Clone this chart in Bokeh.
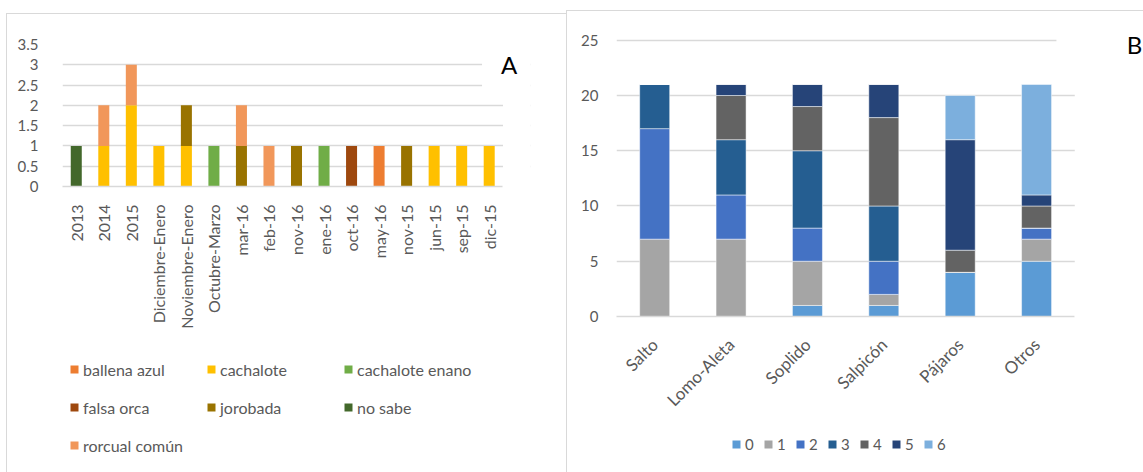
import math
from bokeh.plotting import figure
from bokeh.models import (Range1d, FixedTicker, CustomJSTickFormatter,
                          Legend, LegendItem, Label, BoxAnnotation, ColumnDataSource)
from bokeh.layouts import row, column
from bokeh.embed import file_html
from bokeh.resources import INLINE

# ---------------- Data: panel A ----------------
periods = ["2013", "2014", "2015", "Diciembre-Enero", "Noviembre-Enero", "Octubre-Marzo",
           "mar-16", "feb-16", "nov-16", "ene-16", "oct-16", "may-16", "nov-15",
           "jun-15", "sep-15", "dic-15"]
species = ["ballena azul", "cachalote", "cachalote enano", "falsa orca",
           "jorobada", "no sabe", "rorcual común"]
ballena_azul    = [0, 0, 0, 0, 0, 0, 0, 0, 0, 0, 0, 1, 0, 0, 0, 0]
cachalote       = [0, 1, 2, 1, 1, 0, 0, 0, 0, 0, 0, 0, 0, 1, 1, 1]
cachalote_enano = [0, 0, 0, 0, 0, 1, 0, 0, 0, 1, 0, 0, 0, 0, 0, 0]
falsa_orca      = [0, 0, 0, 0, 0, 0, 0, 0, 0, 0, 1, 0, 0, 0, 0, 0]
jorobada        = [0, 0, 0, 0, 1, 0, 1, 0, 1, 0, 0, 0, 1, 0, 0, 0]
no_sabe         = [1, 0, 0, 0, 0, 0, 0, 0, 0, 0, 0, 0, 0, 0, 0, 0]
rorcual_comun   = [0, 1, 1, 0, 0, 0, 1, 1, 0, 0, 0, 0, 0, 0, 0, 0]
species_colors = ["#ED7D31", "#FFC000", "#70AD47", "#9E480E", "#997300", "#43682B", "#F1975A"]
y_ticks_a = [0, 0.5, 1, 1.5, 2, 2.5, 3, 3.5]

# ---------------- Data: panel B ----------------
signals = ["Salto", "Lomo-Aleta", "Soplido", "Salpicón", "Pájaros", "Otros"]
levels = ["0", "1", "2", "3", "4", "5", "6"]
level_0 = [0, 0, 1, 1, 4, 5]
level_1 = [7, 7, 4, 1, 0, 2]
level_2 = [10, 4, 3, 3, 0, 1]
level_3 = [4, 5, 7, 5, 0, 0]
level_4 = [0, 4, 4, 8, 2, 2]
level_5 = [0, 1, 2, 3, 10, 1]
level_6 = [0, 0, 0, 0, 4, 10]
level_colors = ["#5B9BD5", "#A5A5A5", "#4472C4", "#255E91", "#636363", "#264478", "#7CAFDD"]
y_ticks_b = [0, 5, 10, 15, 20, 25]

FONT = "Lato"
TXT = "#595959"
GRID = "#D9D9D9"
BORDER = "1px solid #D9D9D9"
num_fmt = CustomJSTickFormatter(code="return String(tick);")


def cat_formatter(names):
    return CustomJSTickFormatter(args=dict(names=names),
                                 code="return names[Math.floor(tick)] ?? '';")


def style_axes(p, xsize, ysize):
    for ax, size in ((p.xaxis[0], xsize), (p.yaxis[0], ysize)):
        ax.major_tick_line_color = None
        ax.minor_tick_line_color = None
        ax.major_label_text_font = FONT
        ax.major_label_text_font_size = size
        ax.major_label_text_color = TXT
    p.yaxis.axis_line_color = None
    p.xaxis.axis_line_color = GRID
    p.xaxis.axis_line_width = 1.5
    p.xgrid.grid_line_color = None
    p.ygrid.grid_line_color = GRID
    p.ygrid.grid_line_width = 1.5
    p.outline_line_color = None


def legend_figure(width, height, labels, colors, location, ncols, font_size,
                  spacing, label_width):
    pl = figure(width=width, height=height, x_range=Range1d(0, 1), y_range=Range1d(0, 1),
                x_axis_type=None, y_axis_type=None, output_backend="svg",
                toolbar_location=None, min_border=0, frame_align=False)
    pl.outline_line_color = None
    pl.grid.visible = False
    items = []
    for lab, col in zip(labels, colors):
        # zero-height swatch renderer, only used for the legend key
        r = pl.vbar(x=[0.5], top=[0], bottom=[0], width=0.1, fill_color=col, line_color=None)
        items.append(LegendItem(label=lab, renderers=[r]))
    leg = Legend(items=items, location=location, orientation="horizontal", ncols=ncols,
                 glyph_width=10, glyph_height=10, label_standoff=4, spacing=spacing,
                 label_width=label_width, label_height=20, padding=0, margin=0,
                 border_line_color=None, background_fill_alpha=0, label_text_font=FONT,
                 label_text_font_size=font_size, label_text_color=TXT)
    pl.add_layout(leg)
    return pl


# ---------------- Panel A ----------------
xa = [i + 0.5 for i in range(len(periods))]
src_a = ColumnDataSource(dict(x=xa, **dict(zip(species, [
    ballena_azul, cachalote, cachalote_enano, falsa_orca, jorobada, no_sabe, rorcual_comun]))))
n_a = len(periods)
pa = figure(x_range=Range1d(0, n_a + 1), y_range=Range1d(0, 3.5),
            width=560, height=327, output_backend="svg", toolbar_location=None,
            min_border_left=55, min_border_right=37, min_border_top=30, min_border_bottom=155,
            frame_align=False)
pa.vbar_stack(species, x="x", width=0.4, color=species_colors, source=src_a, line_color=None)
pa.xaxis.ticker = FixedTicker(ticks=xa)
pa.xaxis.formatter = cat_formatter(periods)
pa.xaxis.bounds = (0, n_a)
pa.yaxis.ticker = FixedTicker(ticks=y_ticks_a)
pa.yaxis.formatter = num_fmt
style_axes(pa, "16px", "15px")
pa.yaxis.major_label_standoff = 18
pa.xaxis.major_label_orientation = math.pi / 2
pa.xaxis.major_label_standoff = 12
pa.add_layout(BoxAnnotation(left=15.24, right=n_a + 1, bottom=2.2, top=3.8,
                            fill_color="white", fill_alpha=1, line_color=None))
pa.add_layout(BoxAnnotation(left=n_a, right=n_a + 1, bottom=-0.5, top=2.2,
                            fill_color="white", fill_alpha=1, line_color=None))
pa.add_layout(Label(x=n_a, y=3, x_offset=-2, text="A", text_align="left", text_baseline="middle",
                    text_font=FONT, text_font_size="24px", text_color="black"))
pa.styles = {"border-left": BORDER, "border-top": BORDER}
pa.margin = (13, 0, 0, 6)

pa_leg = legend_figure(560, 132, species, species_colors, (62, 17), 3, "16px", 18, 105)
pa_leg.styles = {"border-left": BORDER}
pa_leg.margin = (0, 0, 0, 6)

# ---------------- Panel B ----------------
xb = [i + 0.5 for i in range(len(signals))]
src_b = ColumnDataSource(dict(x=xb, **dict(zip(levels, [
    level_0, level_1, level_2, level_3, level_4, level_5, level_6]))))
n_b = len(signals)
pb = figure(x_range=Range1d(0, n_b + 0.9), y_range=Range1d(0, 27.6),
            width=577, height=420, output_backend="svg", toolbar_location=None,
            min_border_left=49, min_border_right=1, min_border_top=0, min_border_bottom=115,
            frame_align=False)
pb.vbar_stack(levels, x="x", width=0.393, color=level_colors, source=src_b,
              line_color="white", line_width=0.5)
pb.xaxis.ticker = FixedTicker(ticks=xb)
pb.xaxis.formatter = cat_formatter(signals)
pb.xaxis.bounds = (0, n_b)
pb.yaxis.ticker = FixedTicker(ticks=y_ticks_b)
pb.yaxis.formatter = num_fmt
style_axes(pb, "17px", "15px")
pb.yaxis.major_label_standoff = 12
pb.xaxis.major_label_orientation = math.pi / 4
pb.xaxis.major_label_standoff = 19
pb.add_layout(BoxAnnotation(left=5.76, right=n_b + 0.9, bottom=23, top=28,
                            fill_color="white", fill_alpha=1, line_color=None))
pb.add_layout(BoxAnnotation(left=n_b, right=n_b + 0.9, bottom=-1, top=23,
                            fill_color="white", fill_alpha=1, line_color=None))
pb.add_layout(Label(x=6.68, y=24.6, text="B", text_align="left", text_baseline="middle",
                    text_font=FONT, text_font_size="24px", text_color="black"))
pb.styles = {"border-left": BORDER, "border-top": BORDER}
pb.margin = (10, 0, 0, 0)

pb_leg = legend_figure(577, 42, levels, level_colors, (164, 18), "auto", "15px", 9, 9)
pb_leg.styles = {"border-left": BORDER}

layout = row(column(pa, pa_leg), column(pb, pb_leg))
open("out.html", "w").write(file_html(layout, INLINE))
